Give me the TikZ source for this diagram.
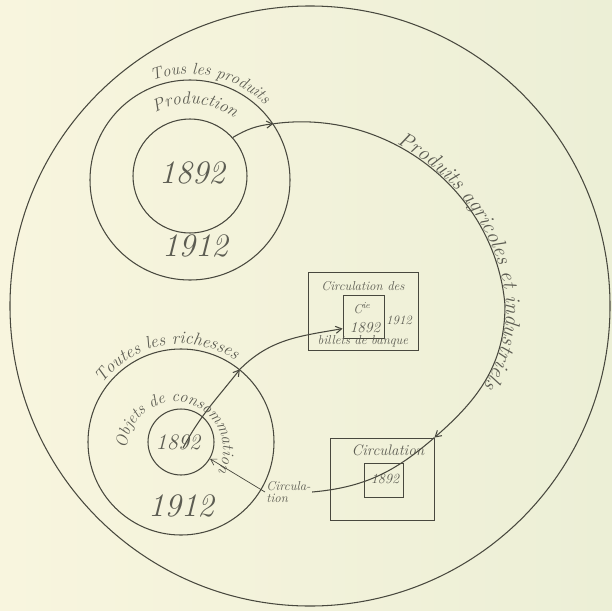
\documentclass[tikz,border=0pt]{standalone}
\usetikzlibrary{arrows.meta,decorations.text}
\definecolor{paper}{RGB}{248,245,222}
\definecolor{paperR}{RGB}{236,239,214}
\definecolor{ink}{RGB}{72,72,62}
\definecolor{pencil}{RGB}{92,92,82}
\newcommand{\hw}[1]{\fontsize{#1}{#1}\selectfont\itshape}
\tikzset{
  ring/.style={draw=ink, circle, line width=0.9pt, inner sep=0pt},
  frame/.style={draw=ink, rectangle, line width=0.8pt, inner sep=0pt},
  hand/.style={text=pencil, inner sep=1pt},
  wire/.style={draw=ink, line width=0.9pt},
  flow/.style={wire, -{Straight Barb[length=5pt,width=6pt]}},
  curved/.style={decorate, decoration={text along path, text align=center, text={#1}}},
}

\begin{document}
\begin{tikzpicture}[x=0.03cm, y=-0.03cm]
\shade[left color=paper, right color=paperR] (0,0) rectangle (612,610);
\useasboundingbox (0,0) rectangle (612,610);

% the whole
\node[ring, minimum size=18cm] (world) at (310,306) {};

% production
\node[ring, minimum size=6cm] (prodOut) at (190,180) {};
\node[ring, minimum size=3.42cm] (prodIn) at (190,176) {};
\node[hand, font=\hw{28}] (prod92) at (192,173) {1892};
\node[hand, font=\hw{28}] (prod12) at (195,246) {1912};
\path[curved={|\hw{14}\color{pencil}|Tous les produits}]
  (prodOut.center) ++(249:106) arc[start angle=249, end angle=315, radius=106];
\path[curved={|\hw{15}\color{pencil}|Production}]
  (prodOut.center) ++(240:76) arc[start angle=240, end angle=308, radius=76];

% richesses
\node[ring, minimum size=5.58cm] (richOut) at (181,442) {};
\node[ring, minimum size=1.98cm] (richIn) at (181,442) {};
\node[hand, font=\hw{19}] (rich92) at (178,442) {1892};
\node[hand, font=\hw{28}] (rich12) at (181,506) {1912};
\path[curved={|\hw{15}\color{pencil}|Toutes les richesses}]
  (richOut.center) ++(214:98) arc[start angle=214, end angle=306, radius=98];
\path[curved={|\hw{14}\color{pencil}|Objets de consommation}]
  (175,450) ++(186:48) arc[start angle=186, end angle=382, radius=48];

% billets
\node[frame, minimum width=3.3cm, minimum height=2.34cm] (cieBox) at (363,311) {};
\node[frame, minimum width=1.23cm, minimum height=1.29cm] (cieIn) at (363.5,316.5) {};
\node[hand, font=\hw{11}] (cieTop) at (363,286) {Circulation des};
\node[hand, font=\hw{11}] (cieName) at (362,308) {C\textsuperscript{ie}};
\node[hand, font=\hw{13}] (cie92) at (365,328) {1892};
\node[hand, font=\hw{11}] (cie12) at (399,320) {1912};
\node[hand, font=\hw{11}] (cieBot) at (363,341) {billets de banque};

% circulation
\node[frame, minimum width=3.12cm, minimum height=2.46cm] (circBox) at (382,479) {};
\node[frame, minimum width=1.17cm, minimum height=1.02cm] (circIn) at (383.5,480) {};
\node[hand, font=\hw{13}] (circTop) at (388,450) {Circulation};
\node[hand, font=\hw{12}] (circ92) at (385,479) {1892};
\node[hand, font=\hw{11}, align=left, anchor=west] (circLbl) at (265,492) {Circula-\\tion};

% flows
\coordinate (bendR) at (505,305);
\draw[flow] (prodIn.42) to[bend left=12] (prodOut.34);
\draw[flow, postaction={decorate, decoration={text along path, raise=1pt,
    text align={left indent=108pt}, text={|\hw{18}\color{pencil}|Produits agricoles et industriels}}}]
  (prodOut.34) to[out=8, in=95] (bendR) to[out=-90, in=41] (circBox.north east);
\draw[wire] (circBox.north east) to[out=221, in=5] (circLbl.east);
\draw[flow, line width=0.6pt] (circLbl.west) -- (richIn.-30);
\draw[flow] (183,448) to[out=62, in=232] (richOut.51);
\draw[flow] (richOut.51) to[out=45, in=190] (cieIn.210);
\end{tikzpicture}
\end{document}
